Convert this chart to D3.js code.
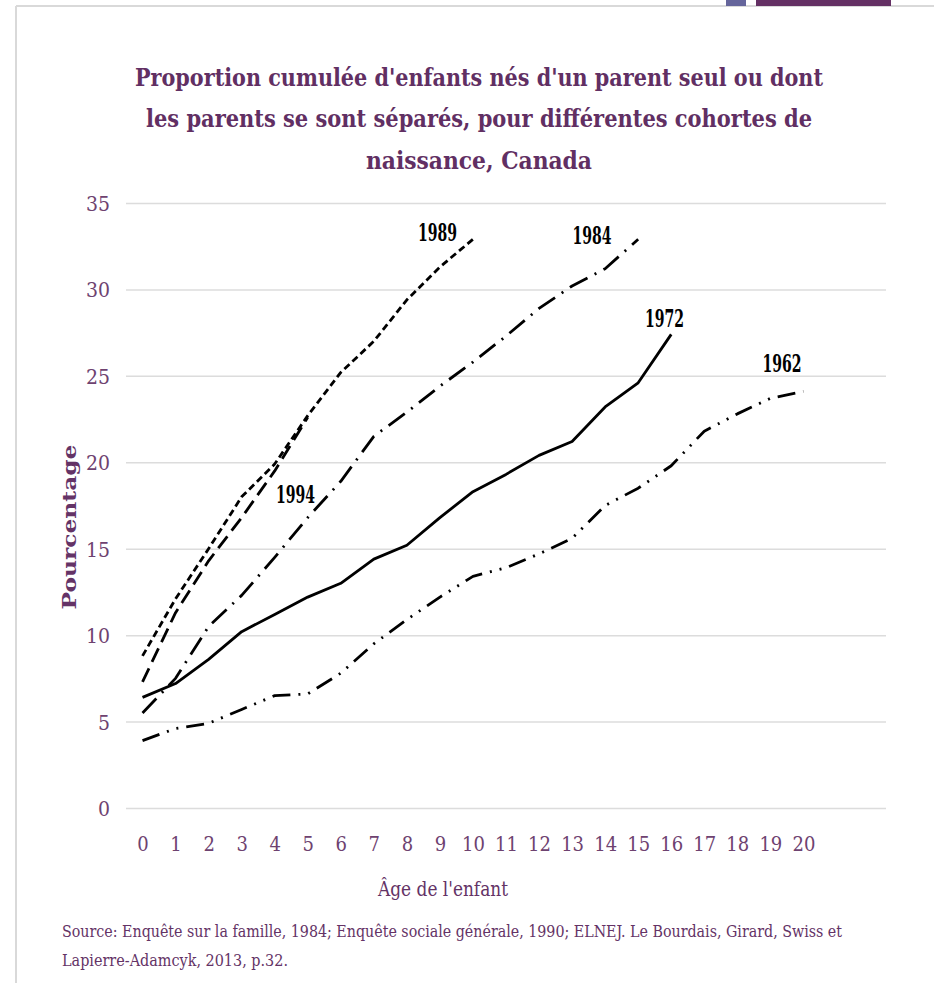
<!DOCTYPE html>
<html><head><meta charset="utf-8">
<script src="https://cdn.jsdelivr.net/npm/d3@7"></script>
<style>body{margin:0;background:#fff;} svg{display:block;}</style>
</head><body>
<svg id="chart" width="934" height="983"></svg>
<script>
// ---------- data ----------
const ages = [0,1,2,3,4,5,6,7,8,9,10,11,12,13,14,15,16,17,18,19,20];
const xTickLabels = ["0","1","2","3","4","5","6","7","8","9","10","11","12","13","14","15","16","17","18","19","20"];
const yTicks = [0,5,10,15,20,25,30,35];
const cohorts = ["1962","1972","1984","1989","1994"];
const values1962 = [3.9,4.6,4.9,5.7,6.5,6.6,7.8,9.5,10.9,12.2,13.4,13.9,14.7,15.6,17.5,18.5,19.8,21.8,22.8,23.7,24.1];
const values1972 = [6.4,7.2,8.6,10.2,11.2,12.2,13.0,14.4,15.2,16.8,18.3,19.3,20.4,21.2,23.2,24.6,27.4];
const values1984 = [5.5,7.5,10.5,12.3,14.5,16.8,18.9,21.5,22.9,24.4,25.8,27.3,28.9,30.2,31.2,32.9];
const values1989 = [8.8,12.1,15.0,18.0,19.9,22.7,25.2,27.0,29.4,31.3,32.9];
const values1994 = [7.3,11.3,14.3,16.8,19.5,22.6];
// label anchor (in data units: age, percentage)
const labelAge   = [19.35, 15.8, 13.6, 8.93, 4.63];
const labelValue = [25.2, 27.85, 32.6, 32.8, 17.66];

const titleLines = [
  "Proportion cumulée d'enfants nés d'un parent seul ou dont",
  "les parents se sont séparés, pour différentes cohortes de",
  "naissance, Canada"
];
const xTitle = "Âge de l'enfant";
const yTitle = "Pourcentage";
const sourceLines = [
  "Source: Enquête sur la famille, 1984; Enquête sociale générale, 1990; ELNEJ. Le Bourdais, Girard, Swiss et",
  "Lapierre-Adamcyk, 2013, p.32."
];

// ---------- styles ----------
const seriesValues = [values1962, values1972, values1984, values1989, values1994];
const dashes = ["18,8,2,8,2,8", null, "20,8,2,8", "7,4", "15,7"];
const purple = "#643366";
const tickPurple = "#6e4270";
const serif = "'DejaVu Serif Condensed','DejaVu Serif',serif";

const svg = d3.select("#chart");

// frame + decorations
svg.append("line").attr("x1",16).attr("x2",934).attr("y1",6).attr("y2",6)
  .attr("stroke","#d9d9d9").attr("stroke-width",2);
svg.append("line").attr("x1",16).attr("x2",16).attr("y1",6).attr("y2",983)
  .attr("stroke","#d9d9d9").attr("stroke-width",2);
svg.append("rect").attr("x",726).attr("y",0).attr("width",20).attr("height",6).attr("fill","#65659b");
svg.append("rect").attr("x",756).attr("y",0).attr("width",135).attr("height",6).attr("fill","#643064");

// scales
const x = d3.scaleLinear().domain([-0.5, 22.5]).range([126, 886]);
const y = d3.scaleLinear().domain([0, 35]).range([808, 203]);

// y axis with gridlines
const yAxis = svg.append("g").attr("transform","translate(126,0)")
  .call(d3.axisLeft(y).tickValues(yTicks).tickSizeInner(-760).tickSizeOuter(0).tickPadding(16));
yAxis.select(".domain").remove();
yAxis.selectAll(".tick line").attr("stroke","#dcdcdc").attr("stroke-width",1.5);
yAxis.selectAll(".tick text").attr("fill",tickPurple).style("font-family",serif)
  .style("font-size","21px").attr("dy","0.36em");

// x axis labels
const xAxis = svg.append("g").attr("transform","translate(0,808)")
  .call(d3.axisBottom(x).tickValues(ages).tickFormat((d,i)=>xTickLabels[i]).tickSize(0));
xAxis.select(".domain").remove();
xAxis.selectAll(".tick text").attr("y",43).attr("dy",0).attr("fill",tickPurple)
  .style("font-family",serif).style("font-size","20px");

// lines
const line = d3.line().x((d,i)=>x(ages[i])).y(d=>y(d));
svg.append("g").selectAll("path").data(seriesValues).join("path")
  .attr("d", d=>line(d))
  .attr("fill","none").attr("stroke","#000").attr("stroke-width",2.8)
  .attr("stroke-linejoin","round")
  .attr("stroke-dasharray",(d,i)=>dashes[i]);

// series labels
svg.append("g").selectAll("text").data(cohorts).join("text")
  .attr("x",(d,i)=>x(labelAge[i])).attr("y",(d,i)=>y(labelValue[i]))
  .attr("text-anchor","middle")
  .attr("textLength",39).attr("lengthAdjust","spacingAndGlyphs")
  .style("font-family",serif).style("font-weight","bold").style("font-size","24px")
  .attr("fill","#000").text(d=>d);

// title
const titleY = [86, 127, 169];
const titleW = [688, 666, 226];
svg.append("g").selectAll("text").data(titleLines).join("text")
  .attr("x",479).attr("y",(d,i)=>titleY[i]).attr("text-anchor","middle")
  .attr("textLength",(d,i)=>titleW[i]).attr("lengthAdjust","spacingAndGlyphs")
  .style("font-family",serif).style("font-weight","bold").style("font-size","25px")
  .attr("fill","#612f63").text(d=>d);

// axis titles
svg.append("text").attr("x",443).attr("y",896).attr("text-anchor","middle")
  .attr("textLength",130).attr("lengthAdjust","spacingAndGlyphs")
  .style("font-family",serif).style("font-size","21px").attr("fill",purple).text(xTitle);
svg.append("text").attr("transform","translate(76,527) rotate(-90)").attr("text-anchor","middle")
  .attr("textLength",165).attr("lengthAdjust","spacingAndGlyphs")
  .style("font-family",serif).style("font-weight","bold").style("font-size","18px")
  .attr("fill",purple).text(yTitle);

// source
const srcY = [937, 966];
const srcW = [780, 226];
svg.append("g").selectAll("text").data(sourceLines).join("text")
  .attr("x",62).attr("y",(d,i)=>srcY[i])
  .attr("textLength",(d,i)=>srcW[i]).attr("lengthAdjust","spacingAndGlyphs")
  .style("font-family",serif).style("font-size","17px").attr("fill",purple).text(d=>d);
</script>
</body></html>
